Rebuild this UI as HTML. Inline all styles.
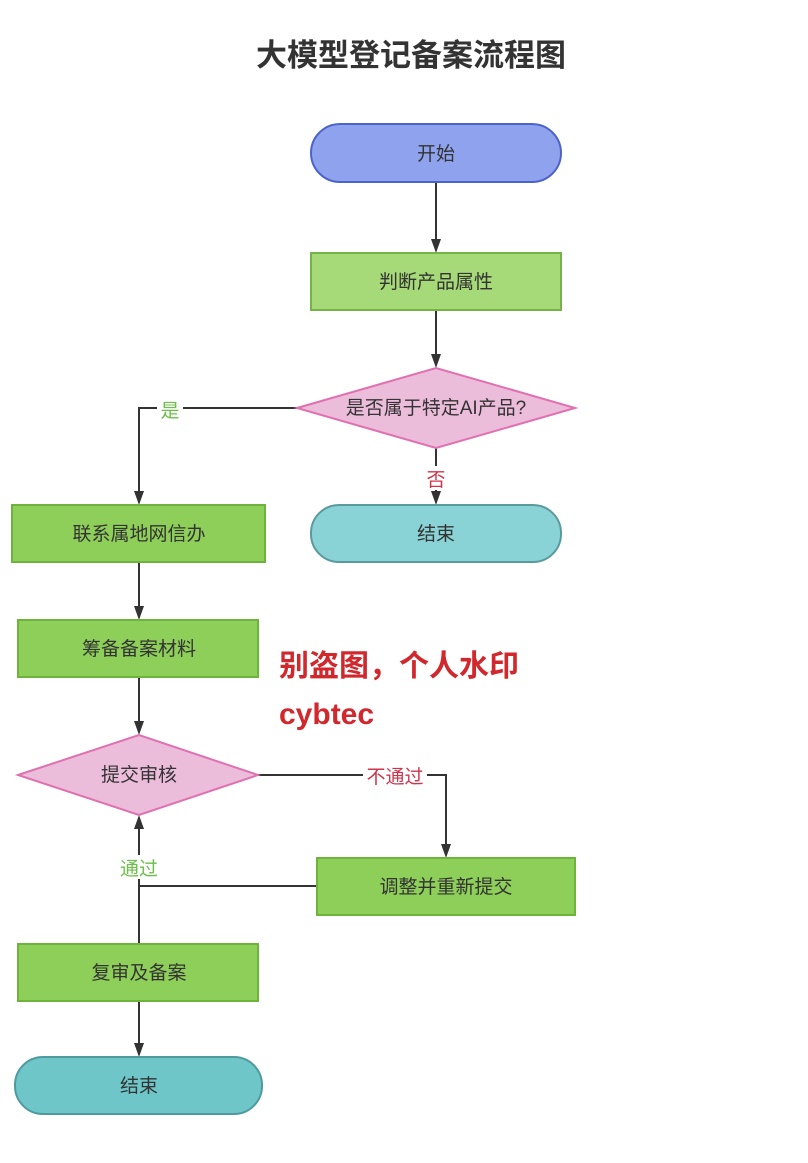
<!DOCTYPE html>
<html><head><meta charset="utf-8"><style>
html,body{margin:0;padding:0;background:#fff;}
svg text{font-family:"Liberation Sans","Noto Sans CJK SC",sans-serif;}
</style></head><body>
<svg width="808" height="1158" viewBox="0 0 808 1158" xmlns="http://www.w3.org/2000/svg">
<defs>
<marker id="a" markerWidth="10" markerHeight="12" refX="5" refY="11" orient="auto" markerUnits="userSpaceOnUse" viewBox="0 0 10 12">
</marker>
</defs>
<text x="411" y="66" text-anchor="middle" font-size="31" font-weight="bold" fill="#333">大模型登记备案流程图</text>

<g stroke="#333" stroke-width="2" fill="none">
<line x1="436" y1="182" x2="436" y2="240"/>
<line x1="436" y1="310" x2="436" y2="355"/>
<line x1="436" y1="448" x2="436" y2="492"/>
<polyline points="297,408 139,408 139,492"/>
<line x1="139" y1="562" x2="139" y2="607"/>
<line x1="139" y1="677" x2="139" y2="722"/>
<polyline points="258,775 446,775 446,845"/>
<polyline points="317,886 139,886 139,828"/>
<line x1="139" y1="886" x2="139" y2="944"/>
<line x1="139" y1="1001" x2="139" y2="1044"/>
</g>
<g fill="#333">
<polygon points="431,239 441,239 436,253"/>
<polygon points="431,354 441,354 436,368"/>
<polygon points="431,491 441,491 436,505"/>
<polygon points="134,491 144,491 139,505"/>
<polygon points="134,606 144,606 139,620"/>
<polygon points="134,721 144,721 139,735"/>
<polygon points="441,844 451,844 446,858"/>
<polygon points="134,829 144,829 139,815"/>
<polygon points="134,1043 144,1043 139,1057"/>
</g>

<!-- labels on edges -->
<rect x="157" y="398" width="26" height="22" fill="#fff"/>
<text x="170" y="417" text-anchor="middle" font-size="19" fill="#6cc04a">是</text>
<rect x="424" y="466" width="24" height="24" fill="#fff"/>
<text x="436" y="486" text-anchor="middle" font-size="19" fill="#d0344a">否</text>
<rect x="363" y="764" width="64" height="22" fill="#fff"/>
<text x="395" y="783" text-anchor="middle" font-size="19" fill="#d0344a">不通过</text>
<rect x="115" y="855" width="48" height="24" fill="#fff"/>
<text x="139" y="875" text-anchor="middle" font-size="19" fill="#6cc04a">通过</text>

<!-- nodes -->
<rect x="311" y="124" width="250" height="58" rx="29" fill="#8fa2ed" stroke="#4c63c9" stroke-width="2"/>
<text x="436" y="160" text-anchor="middle" font-size="19" fill="#333">开始</text>

<rect x="311" y="253" width="250" height="57" fill="#a6d977" stroke="#75b348" stroke-width="2"/>
<text x="436" y="288" text-anchor="middle" font-size="19" fill="#333">判断产品属性</text>

<polygon points="297,408 436,368 575,408 436,448" fill="#ecbcdb" stroke="#e070b0" stroke-width="2"/>
<text x="436" y="414" text-anchor="middle" font-size="19" fill="#333">是否属于特定AI产品?</text>

<rect x="311" y="505" width="250" height="57" rx="28" fill="#89d3d6" stroke="#5a9a9e" stroke-width="2"/>
<text x="436" y="540" text-anchor="middle" font-size="19" fill="#333">结束</text>

<rect x="12" y="505" width="253" height="57" fill="#8ecf5a" stroke="#6eb33c" stroke-width="2"/>
<text x="139" y="540" text-anchor="middle" font-size="19" fill="#333">联系属地网信办</text>

<rect x="18" y="620" width="240" height="57" fill="#8ecf5a" stroke="#6eb33c" stroke-width="2"/>
<text x="139" y="655" text-anchor="middle" font-size="19" fill="#333">筹备备案材料</text>

<polygon points="18,775 139,735 258,775 139,815" fill="#ecbcdb" stroke="#e070b0" stroke-width="2"/>
<text x="139" y="781" text-anchor="middle" font-size="19" fill="#333">提交审核</text>

<rect x="317" y="858" width="258" height="57" fill="#8ecf5a" stroke="#6eb33c" stroke-width="2"/>
<text x="446" y="893" text-anchor="middle" font-size="19" fill="#333">调整并重新提交</text>

<rect x="18" y="944" width="240" height="57" fill="#8ecf5a" stroke="#6eb33c" stroke-width="2"/>
<text x="139" y="979" text-anchor="middle" font-size="19" fill="#333">复审及备案</text>

<rect x="15" y="1057" width="247" height="57" rx="28" fill="#6ec6c9" stroke="#4f9a9e" stroke-width="2"/>
<text x="139" y="1092" text-anchor="middle" font-size="19" fill="#333">结束</text>

<text x="279" y="676" font-size="30" font-weight="bold" fill="#d0282c">别盗图，个人水印</text>
<text x="279" y="724" font-size="30" font-weight="bold" fill="#d0282c">cybtec</text>
</svg>
</body></html>
